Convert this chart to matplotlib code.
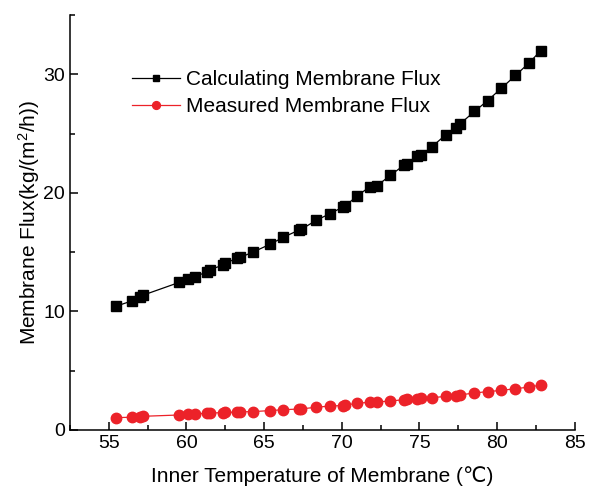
import numpy as np
import matplotlib.pyplot as plt
from matplotlib.ticker import MultipleLocator

plt.rcParams['font.family'] = ['Liberation Sans', 'DejaVu Sans']
plt.rcParams['mathtext.default'] = 'regular'

# inner membrane temperature (°C)
temp = [55.50, 56.50, 57.00, 57.21, 59.52, 60.12, 60.55, 61.31, 61.52, 62.33,
        62.50, 63.24, 63.45, 64.31, 65.39, 66.25, 67.22, 67.40, 68.36, 69.26,
        70.05, 70.23, 70.98, 71.79, 72.27, 73.13, 73.99, 74.19, 74.83, 75.12,
        75.78, 76.70, 77.33, 77.59, 78.54, 79.38, 80.28, 81.18, 82.08, 82.81]
# model flux
calc_flux = [10.45, 10.89, 11.23, 11.37, 12.44, 12.70, 12.92, 13.34, 13.52, 13.90,
             14.07, 14.47, 14.55, 15.02, 15.67, 16.26, 16.85, 16.93, 17.69, 18.26,
             18.79, 18.90, 19.74, 20.50, 20.61, 21.48, 22.33, 22.41, 23.08, 23.23,
             23.87, 24.91, 25.47, 25.80, 26.87, 27.78, 28.84, 29.91, 31.00, 32.01]
# experiment flux
meas_flux = [1.04, 1.07, 1.12, 1.15, 1.26, 1.32, 1.35, 1.40, 1.42, 1.46,
             1.48, 1.50, 1.52, 1.55, 1.63, 1.71, 1.76, 1.78, 1.91, 2.02,
             2.05, 2.10, 2.25, 2.33, 2.36, 2.44, 2.55, 2.58, 2.64, 2.67,
             2.72, 2.83, 2.89, 2.95, 3.12, 3.23, 3.34, 3.48, 3.62, 3.79]

fig = plt.figure(figsize=(5.92, 4.88), dpi=100)
ax = fig.add_axes([0.118, 0.119, 0.853, 0.850])

ax.plot(temp, calc_flux, color='black', lw=0.9, marker='s', ms=6.5,
        label='Calculating Membrane Flux')
ax.plot(temp, meas_flux, color='#ec2229', lw=0.9, marker='o', ms=7.5,
        label='Measured Membrane Flux')

ax.set_xlim(52.5, 85)
ax.set_ylim(0, 35)
ax.set_xticks([55, 60, 65, 70, 75, 80, 85])
ax.xaxis.set_minor_locator(MultipleLocator(2.5))
ax.yaxis.set_major_locator(MultipleLocator(10))
ax.yaxis.set_minor_locator(MultipleLocator(5))

for s in ['top', 'right']:
    ax.spines[s].set_visible(False)
for s in ['left', 'bottom']:
    ax.spines[s].set_linewidth(1.1)

ax.tick_params(which='both', direction='in', width=1.1, labelsize=14)
ax.tick_params(which='major', length=6)
ax.tick_params(which='minor', length=3.5)

ax.set_xlabel('Inner Temperature of Membrane (℃)', fontsize=15, labelpad=10)
ax.set_ylabel('Membrane Flux(kg/(m$^{2}$/h))', fontsize=15, labelpad=1)

ax.legend(loc='upper left', bbox_to_anchor=(0.124, 0.868), frameon=False,
          borderpad=0, borderaxespad=0, fontsize=15, handlelength=2.26,
          handletextpad=0.32, labelspacing=0.38, numpoints=1, markerscale=0.75)

fig.savefig('out.png', dpi=100)
